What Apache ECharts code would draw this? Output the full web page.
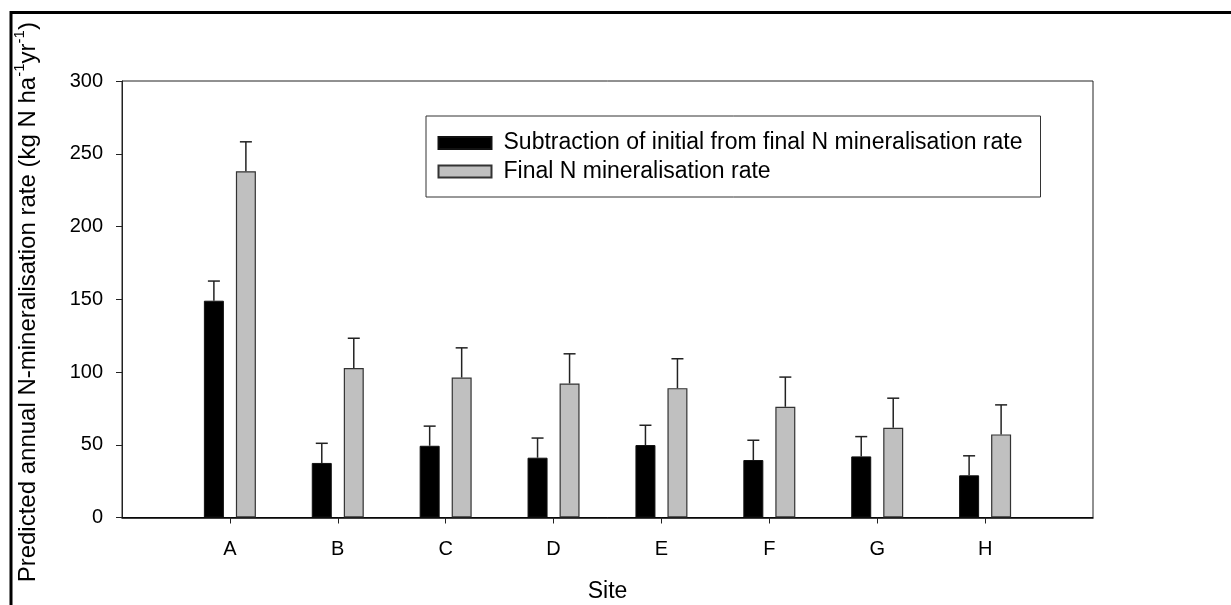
<!DOCTYPE html>
<html>
<head>
<meta charset="utf-8">
<title>Predicted annual N-mineralisation rate by site</title>
<script src="https://cdn.jsdelivr.net/npm/echarts@6/dist/echarts.min.js"></script>
<style>
  html, body { margin: 0; padding: 0; background: #fff; }
  #chart { width: 1231px; height: 605px; }
</style>
</head>
<body>
<div id="chart"></div>
<script>
// Sites along the x axis
const sites = ['A', 'B', 'C', 'D', 'E', 'F', 'G', 'H'];

// Subtraction of initial from final N mineralisation rate (kg N ha-1 yr-1)
const subtractionMean = [149, 37.5, 49.3, 41.1, 49.8, 39.5, 42.0, 29.0];
const subtractionErr  = [13.5, 13.5, 13.5, 13.5, 13.6, 13.6, 13.6, 13.4];

// Final N mineralisation rate (kg N ha-1 yr-1)
const finalMean = [238, 102.8, 96.2, 92.1, 88.9, 76.1, 61.6, 57.1];
const finalErr  = [20.2, 20.4, 20.4, 20.4, 20.2, 20.4, 20.4, 20.3];

// Y axis ticks
const yTicks = [0, 50, 100, 150, 200, 250, 300];

const FONT = 'Liberation Sans, Arial, sans-serif';
const BAR_W = 20;
const BAR_GAP = 12;

// Empty slots at both ends leave a band of space before A and after H
const axisCats = [''].concat(sites, ['']);
const pad = arr => [null].concat(arr, [null]);

// Error bar (upper whisker with cap) drawn above each bar
function errorBars(means, errs, side) {
  const data = means.map((m, i) => [i + 1, m, m + errs[i]]);
  return {
    type: 'custom',
    silent: true,
    z: 5,
    data: data,
    encode: { x: 0, y: [1, 2] },
    renderItem: function (params, api) {
      const top = api.coord([api.value(0), api.value(1)]);
      const hi = api.coord([api.value(0), api.value(2)]);
      const x = top[0] + side * (BAR_W + BAR_GAP) / 2;
      const capHalf = 6;
      const style = { stroke: '#222', lineWidth: 1.5 };
      return {
        type: 'group',
        children: [
          { type: 'line', shape: { x1: x, y1: top[1], x2: x, y2: hi[1] }, style: style },
          { type: 'line', shape: { x1: x - capHalf, y1: hi[1], x2: x + capHalf, y2: hi[1] }, style: style }
        ]
      };
    }
  };
}

const chart = echarts.init(document.getElementById('chart'), null, { renderer: 'canvas' });

chart.setOption({
  animation: false,
  backgroundColor: '#fff',
  textStyle: { fontFamily: FONT },
  grid: {
    left: 122, top: 81, right: 138, bottom: 87.5,
    outerBoundsMode: 'none',
    show: true, borderColor: '#222', borderWidth: 1
  },
  graphic: [{
    type: 'rect',
    shape: { x: 11, y: 12.5, width: 1400, height: 800 },
    style: { fill: 'none', stroke: '#000', lineWidth: 3 },
    silent: true,
    z: 100
  }],
  legend: {
    left: 426,
    top: 116,
    orient: 'vertical',
    icon: 'rect',
    itemWidth: 53,
    itemHeight: 12,
    itemGap: 4.5,
    borderColor: '#333',
    borderWidth: 1,
    padding: [15, 18, 13.5, 11.5],
    textStyle: { fontFamily: FONT, fontSize: 23, color: '#000', lineHeight: 24, padding: [0, 0, 0, 7] },
    data: ['Subtraction of initial from final N mineralisation rate', 'Final N mineralisation rate']
  },
  xAxis: {
    type: 'category',
    data: axisCats,
    boundaryGap: false,
    name: 'Site',
    nameLocation: 'middle',
    nameGap: 63,
    nameTextStyle: { fontFamily: FONT, fontSize: 23, color: '#000' },
    axisLine: { lineStyle: { color: '#000', width: 1.5 } },
    axisTick: { show: true, length: 6, lineStyle: { color: '#222' }, interval: (i) => i > 0 && i < axisCats.length - 1 },
    axisLabel: { fontFamily: FONT, fontSize: 20, color: '#000', margin: 22, interval: 0 },
    splitLine: { show: false }
  },
  yAxis: {
    type: 'value',
    min: yTicks[0],
    max: yTicks[yTicks.length - 1],
    interval: 50,
    name: '{t|Predicted annual N-mineralisation rate (kg N ha}{s|-1}{t|yr}{s|-1}{t|)}',
    nameLocation: 'middle',
    nameGap: 82,
    nameTextStyle: {
      fontFamily: FONT,
      color: '#000',
      padding: [0, 6, 0, 0],
      rich: {
        t: { fontFamily: FONT, fontSize: 24, color: '#000', lineHeight: 28, verticalAlign: 'bottom' },
        s: { fontFamily: FONT, fontSize: 15, color: '#000', lineHeight: 28, verticalAlign: 'top' }
      }
    },
    axisLine: { show: true, lineStyle: { color: '#222', width: 1 } },
    axisTick: { show: true, length: 6, lineStyle: { color: '#222' } },
    axisLabel: { fontFamily: FONT, fontSize: 20, color: '#000', margin: 19 },
    splitLine: { show: false }
  },
  series: [
    {
      name: 'Subtraction of initial from final N mineralisation rate',
      type: 'bar',
      data: pad(subtractionMean),
      barWidth: BAR_W,
      barGap: (BAR_GAP / BAR_W * 100) + '%',
      itemStyle: { color: '#000', borderColor: '#111', borderWidth: 1 }
    },
    {
      name: 'Final N mineralisation rate',
      type: 'bar',
      data: pad(finalMean),
      barWidth: BAR_W,
      itemStyle: { color: '#c0c0c0', borderColor: '#333', borderWidth: 1.2 }
    },
    errorBars(subtractionMean, subtractionErr, -1),
    errorBars(finalMean, finalErr, 1)
  ]
});
</script>
</body>
</html>
